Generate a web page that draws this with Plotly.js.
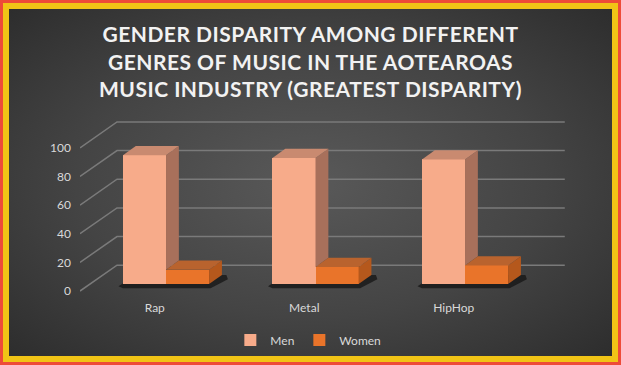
<!DOCTYPE html>
<html><head><meta charset="utf-8">
<script src="https://cdn.plot.ly/plotly-3.0.1.min.js"></script>
<style>
html,body{margin:0;padding:0;width:621px;height:365px;overflow:hidden;background:#EE4B38;}
#frame{position:absolute;left:0;top:0;width:621px;height:365px;box-sizing:border-box;background:#EE4B38;padding:3px;}
#inner{width:100%;height:100%;box-sizing:border-box;border:6px solid #F1C416;
 background:radial-gradient(ellipse at 50% 50%, #595959 0%, #444444 55%, #2d2d2d 100%);}
#chart{position:absolute;left:0;top:0;width:621px;height:365px;}
.gtitle{letter-spacing:0.5px;}
</style></head>
<body><div id="frame"><div id="inner"></div></div><div id="chart"></div>
<script>
// ---- data ----
const categories = ['Rap', 'Metal', 'HipHop'];
const men = [90, 88, 87];
const women = [10, 12, 13];
const yTickValues = [0, 20, 40, 60, 80, 100];
const titleLines = ['GENDER DISPARITY AMONG DIFFERENT', 'GENRES OF MUSIC IN THE AOTEAROAS', 'MUSIC INDUSTRY (GREATEST DISPARITY)'];

// ---- pseudo-3D geometry (layout only) ----
const barW = 0.288;          // bar width in category units
const frontShift = -4.86;    // front plane offset relative to bar face
const backShift = 13.19;     // back wall offset relative to bar face
const wallDX = 0.2475;       // x shift front->back
const dX = 0.086, dY = 6.4;  // bar depth offset
const xMin = -0.5753, xMax = 2.7023;
const labelShift = -0.075;
const gridColor = '#7a7a7a';

const colors = {
  men: {front: '#F7AB8A', top: '#C98A70', side: '#A8705B'},
  women: {front: '#E9742A', top: '#B9632E', side: '#B5581C'}
};

const idx = categories.map((c, i) => i);
const traces = [];

// gridlines (back wall + floor diagonals) on base subplot
yTickValues.forEach(v => {
  traces.push({
    type: 'scatter', mode: 'lines', xaxis: 'x', yaxis: 'y', hoverinfo: 'skip', showlegend: false,
    x: [xMin, xMin + wallDX, xMax - 0.035],
    y: [v + frontShift, v + backShift, v + backShift],
    line: {color: gridColor, width: 1.5}
  });
});

// shadows under bars
idx.forEach(i => {
  const x0 = i - barW, x1 = i + barW;
  traces.push({
    type: 'scatter', mode: 'lines', fill: 'toself', xaxis: 'x', yaxis: 'y', hoverinfo: 'skip', showlegend: false,
    x: [x0 - 0.03, x0, x1 + 0.01, x1 + dX + 0.04, x1 + dX + 0.03, x1 + dX, x0 + dX, x0 - 0.03],
    y: [-1.5, -3, -3, dY - 3, dY, dY, dY, -1.5],
    line: {width: 0}, fillcolor: 'rgba(20,20,20,0.75)'
  });
});

// front faces as bars (overlay subplot)
traces.push({
  type: 'bar', name: 'Men', x: idx, y: men, xaxis: 'x2', yaxis: 'y2',
  offset: -barW, width: barW, marker: {color: colors.men.front, line: {width: 0}}, hoverinfo: 'y'
});
traces.push({
  type: 'bar', name: 'Women', x: idx, y: women, xaxis: 'x2', yaxis: 'y2',
  offset: 0, width: barW, marker: {color: colors.women.front, line: {width: 0}}, hoverinfo: 'y'
});

function poly(xs, ys, col) {
  traces.push({
    type: 'scatter', mode: 'lines', fill: 'toself', xaxis: 'x2', yaxis: 'y2', hoverinfo: 'skip', showlegend: false,
    x: xs.concat([xs[0]]), y: ys.concat([ys[0]]), line: {width: 0}, fillcolor: col
  });
}

// men side + top faces
idx.forEach(i => {
  const x0 = i - barW, x1 = i, h = men[i], wh = women[i];
  poly([x1, x1, x1 + dX, x1 + dX], [wh, h, h + dY, wh + dY], colors.men.side);
  poly([x0, x1, x1 + dX, x0 + dX], [h, h, h + dY, h + dY], colors.men.top);
});
// women side + top faces
idx.forEach(i => {
  const x0 = i, x1 = i + barW, h = women[i];
  poly([x1, x1, x1 + dX, x1 + dX], [0, h, h + dY, dY], colors.women.side);
  poly([x0, x1, x1 + dX, x0 + dX], [h, h, h + dY, h + dY], colors.women.top);
});

const yRange = [-10.42, 121.53];
const tickFont = {family: 'Lato, "Open Sans", sans-serif', size: 12, color: '#D9D9D9'};

const layout = {
  width: 621, height: 365,
  paper_bgcolor: 'rgba(0,0,0,0)', plot_bgcolor: 'rgba(0,0,0,0)',
  margin: {l: 80, r: 51, t: 110, b: 65, pad: 0},
  showlegend: true,
  title: {
    text: titleLines.join('<br>'),
    font: {family: 'Lato, "Open Sans", sans-serif', size: 21, color: '#F2F2F2', weight: 'bold'},
    x: 0.5, xanchor: 'center', xref: 'container', y: 0.884, yanchor: 'top', yref: 'container'
  },
  xaxis: {
    range: [xMin, xMax], showgrid: false, zeroline: false, showline: false, ticks: '',
    tickmode: 'array', tickvals: idx.map(i => i + labelShift), ticktext: categories,
    tickfont: tickFont, fixedrange: true
  },
  yaxis: {
    range: yRange, showgrid: false, zeroline: false, showline: false, ticks: '',
    tickmode: 'array', tickvals: yTickValues.map(v => v + frontShift), ticktext: yTickValues.map(String),
    tickfont: tickFont, ticklabelstandoff: 8, fixedrange: true
  },
  xaxis2: {overlaying: 'x', range: [xMin, xMax], visible: false, fixedrange: true},
  yaxis2: {overlaying: 'y', range: yRange, visible: false, fixedrange: true},
  legend: {
    orientation: 'h', x: 0.466, xanchor: 'center', y: -0.21, yanchor: 'middle',
    font: tickFont, bgcolor: 'rgba(0,0,0,0)', itemwidth: 30, traceorder: 'normal'
  },
  bargap: 0
};

Plotly.newPlot('chart', traces, layout, {displayModeBar: false, staticPlot: true});
</script>
</body></html>
